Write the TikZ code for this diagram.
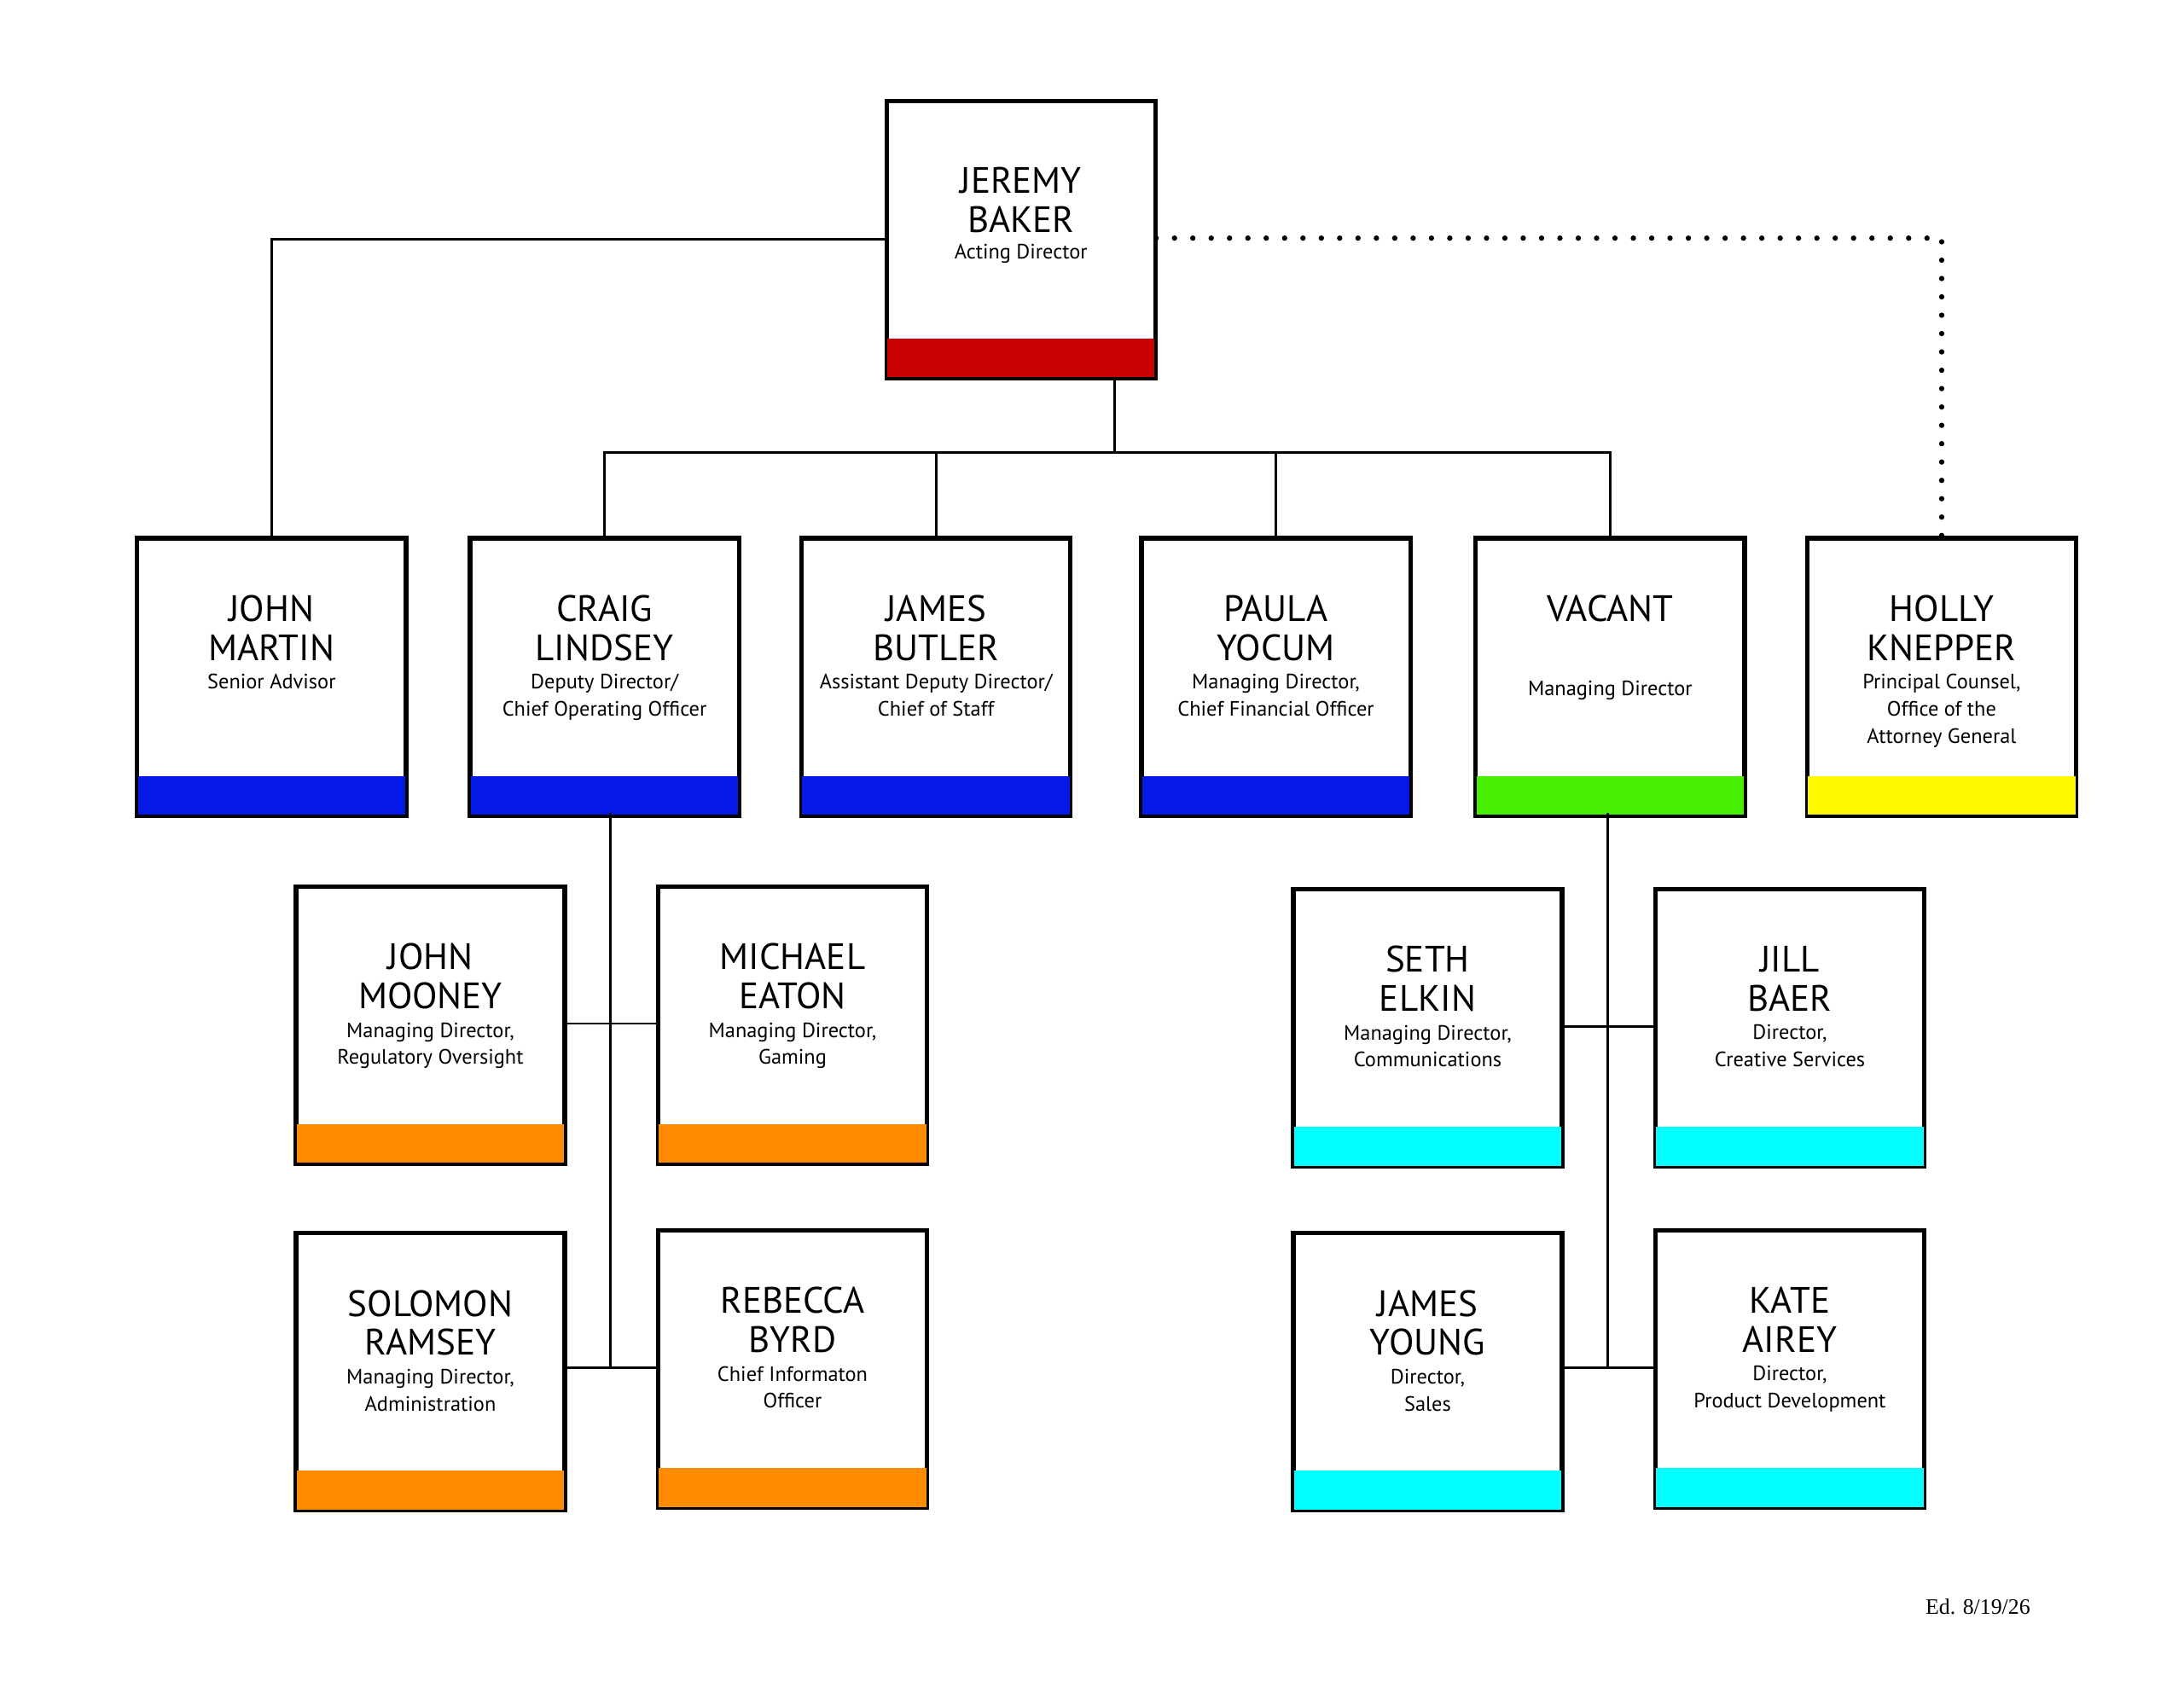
\documentclass[tikz,border=0pt]{standalone}
\usepackage{fontspec}
\setmainfont{PT Sans}
\usetikzlibrary{positioning,calc}
\definecolor{barred}{RGB}{200,0,0}
\definecolor{barblue}{RGB}{5,25,230}
\definecolor{bargreen}{RGB}{70,240,0}
\definecolor{baryellow}{RGB}{255,250,0}
\definecolor{barorange}{RGB}{255,140,0}
\definecolor{barcyan}{RGB}{0,255,255}
\tikzset{
  card/.style={draw, line width=1.2pt, minimum width=3.84cm, minimum height=3.96cm, inner sep=0pt},
  who/.style={font=\fontsize{15}{16}\selectfont, align=center, inner sep=0pt},
  what/.style={font=\fontsize{8.5}{11}\selectfont, align=center, inner sep=0pt},
  link/.style={line width=1pt}
}
% [name offset] id, centre x, top y, colour, name, title
\newcommand\orgbox[7][0.82cm]{%
  \node[card, anchor=north] (#2) at (#3,#4) {};
  \fill[#5] ([xshift=0.02cm, yshift=0.02cm]#2.south west) rectangle ([xshift=-0.02cm, yshift=0.58cm]#2.south east);
  \draw[line width=1.2pt] (#2.south west) rectangle (#2.north east);
  \node[who, anchor=north] (#2-n) at ([yshift=-#1]#2.north) {#6};
  \node[what, anchor=north, below=0.18cm of #2-n] (#2-t) {#7};
}
\begin{document}
\begin{tikzpicture}[x=0.02cm, y=-0.02cm]
\useasboundingbox (0,0) rectangle (1568,1212);
\orgbox[0.96cm]{baker}{733}{72}{barred}{JEREMY\\BAKER}{\\[-6pt]Acting Director}
\orgbox{martin}{195}{386}{barblue}{JOHN\\MARTIN}{Senior Advisor}
\orgbox{lindsey}{434}{386}{barblue}{CRAIG\\LINDSEY}{Deputy Director/\\Chief Operating Officer}
\orgbox{butler}{672}{386}{barblue}{JAMES\\BUTLER}{Assistant Deputy Director/\\Chief of Staff}
\orgbox{yocum}{916}{386}{barblue}{PAULA\\YOCUM}{Managing Director,\\Chief Financial Officer}
\orgbox{vacant}{1156}{386}{bargreen}{VACANT\\[-2pt]}{\\Managing Director}
\orgbox{knepper}{1394}{386}{baryellow}{HOLLY\\KNEPPER}{Principal Counsel,\\Office of the\\Attorney General}
\orgbox{mooney}{309}{636}{barorange}{JOHN\\MOONEY}{Managing Director,\\Regulatory Oversight}
\orgbox{eaton}{569}{636}{barorange}{MICHAEL\\EATON}{Managing Director,\\Gaming}
\orgbox{ramsey}{309}{885}{barorange}{SOLOMON\\RAMSEY}{Managing Director,\\Administration}
\orgbox{byrd}{569}{883}{barorange}{REBECCA\\BYRD}{Chief Informaton\\Officer}
\orgbox{elkin}{1025}{638}{barcyan}{SETH\\ELKIN}{Managing Director,\\Communications}
\orgbox{baer}{1285}{638}{barcyan}{JILL\\BAER}{Director,\\Creative Services}
\orgbox{young}{1025}{885}{barcyan}{JAMES\\YOUNG}{Director,\\Sales}
\orgbox{airey}{1285}{883}{barcyan}{KATE\\AIREY}{Director,\\Product Development}
% top level links
\coordinate (trunk) at (800,325);
\draw[link] (baker.west |- 0,172) -| (martin.north);
\draw[line width=2.2pt, dash pattern=on 0pt off 7.5pt, line cap=round] (baker.east |- 0,171) -| (knepper.north);
\draw[link] (trunk |- baker.south) -- (trunk);
\draw[link] (lindsey.north) |- (vacant.north |- trunk) -- (vacant.north);
\draw[link] (butler.north) -- (butler.north |- trunk);
\draw[link] (yocum.north) -- (yocum.north |- trunk);
% lower branches
\draw[link] (438,584) -- (438,982);
\draw[link] (mooney.east |- 0,735) -- (eaton.west |- 0,735);
\draw[link] (ramsey.east |- 0,982) -- (byrd.west |- 0,982);
\draw[link] (1154,584) -- (1154,982);
\draw[link] (elkin.east |- 0,737) -- (baer.west |- 0,737);
\draw[link] (young.east |- 0,982) -- (airey.west |- 0,982);
\node[font=\fontspec{Liberation Serif}\fontsize{9}{10}\selectfont] (edition) at (1420,1154) {Ed. 8/19/26};
\end{tikzpicture}
\end{document}
